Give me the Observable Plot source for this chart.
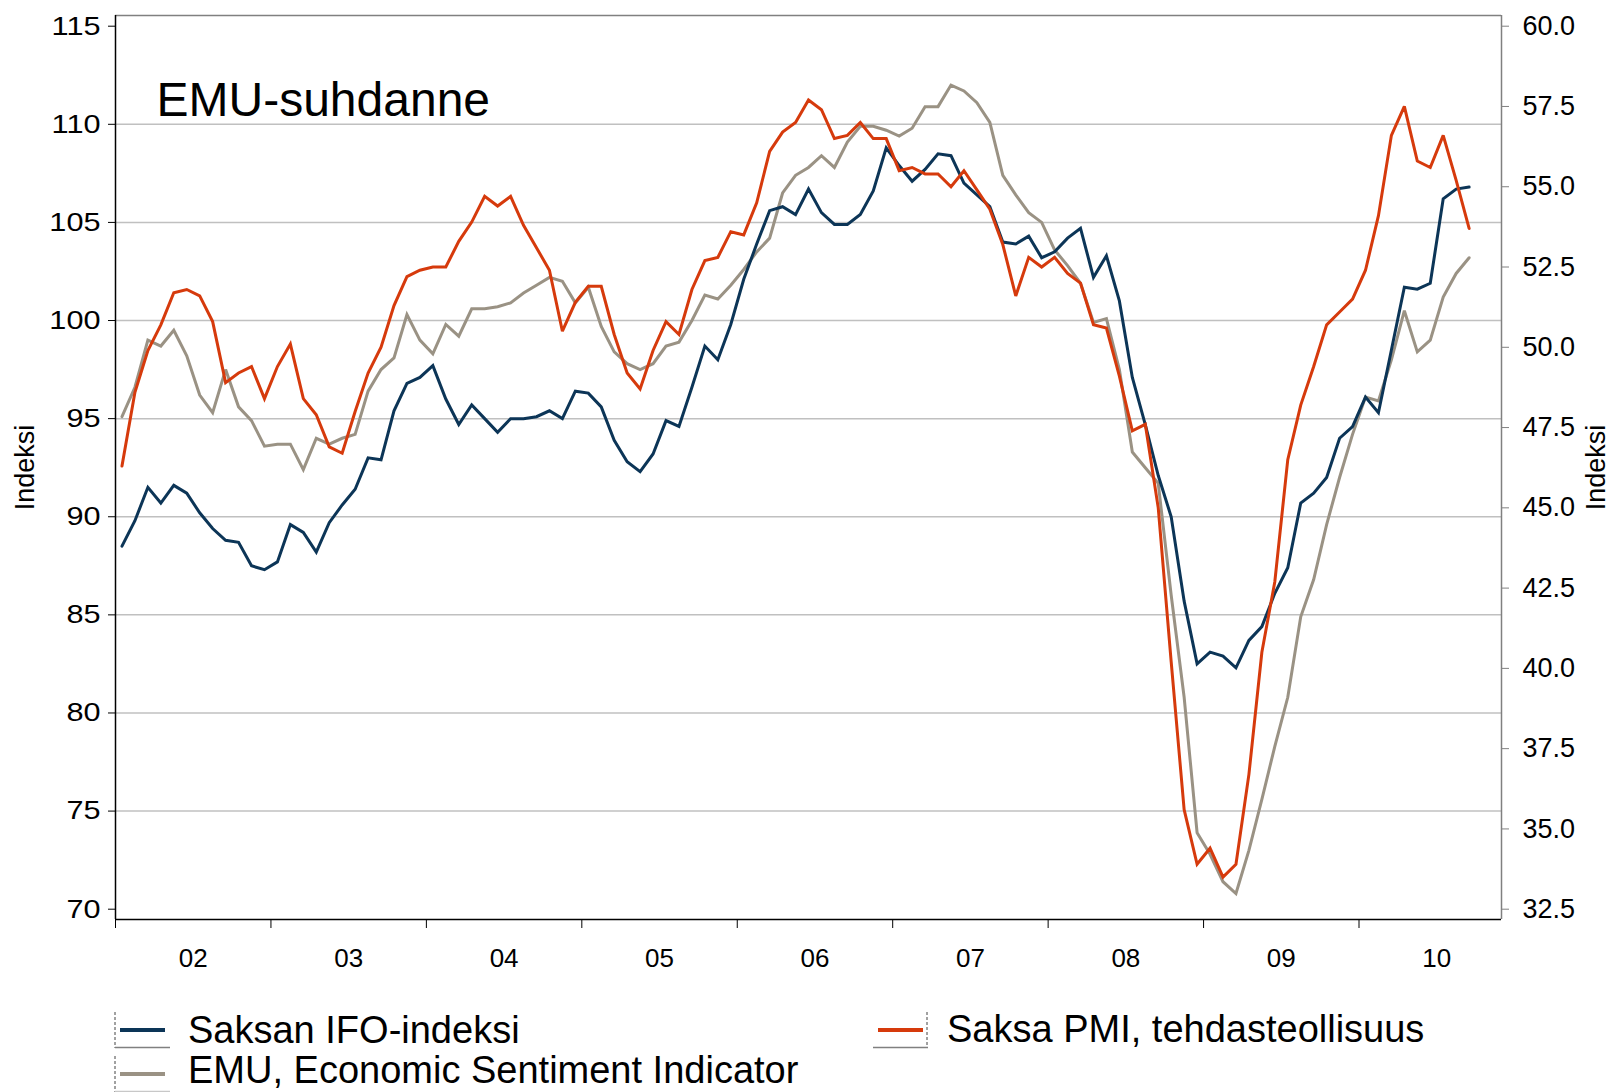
<!DOCTYPE html>
<html>
<head>
<meta charset="utf-8">
<script src="https://cdn.jsdelivr.net/npm/d3@7"></script>
<script src="https://cdn.jsdelivr.net/npm/@observablehq/plot@0.6"></script>
<style>
  html, body { margin: 0; padding: 0; background: #ffffff; }
  body { width: 1612px; height: 1092px; overflow: hidden; position: relative; font-family: "Liberation Sans", Arial, sans-serif; }
  #chart { position: absolute; left: 0; top: 0; }
  #legend { position: absolute; left: 0; top: 995px; }
</style>
</head>
<body>
<div id="chart"></div>
<svg id="legend" width="1612" height="97"></svg>
<script>
// ---- data (monthly, Jan 2002 .. Sep 2010) ----
const chartTitle = "EMU-suhdanne";
const axisTitle = "Indeksi";
const yearLabels = ["02", "03", "04", "05", "06", "07", "08", "09", "10"];
const leftTicks = [70, 75, 80, 85, 90, 95, 100, 105, 110, 115];
const rightTicks = [32.5, 35, 37.5, 40, 42.5, 45, 47.5, 50, 52.5, 55, 57.5, 60];

// Saksan IFO-indeksi (left axis)
const ifo = [
  88.5, 89.8, 91.5, 90.7, 91.6, 91.2, 90.2, 89.4, 88.8, 88.7,
  87.5, 87.3, 87.7, 89.6, 89.2, 88.2, 89.7, 90.6, 91.4, 93.0,
  92.9, 95.4, 96.8, 97.1, 97.7, 96.0, 94.7, 95.7, 95.0, 94.3,
  95.0, 95.0, 95.1, 95.4, 95.0, 96.4, 96.3, 95.6, 93.9, 92.8,
  92.3, 93.2, 94.9, 94.6, 96.6, 98.7, 98.0, 99.8, 102.1, 103.9,
  105.6, 105.8, 105.4, 106.7, 105.5, 104.9, 104.9, 105.4, 106.6, 108.8,
  107.9, 107.1, 107.7, 108.5, 108.4, 107.0, 106.4, 105.8, 104.0, 103.9,
  104.3, 103.2, 103.5, 104.2, 104.7, 102.2, 103.3, 101.0, 97.1, 94.7,
  92.1, 90.0, 85.7, 82.5, 83.1, 82.9, 82.3, 83.7, 84.4, 86.1,
  87.4, 90.7, 91.2, 92.0, 94.0, 94.6, 96.1, 95.3, 98.5, 101.7,
  101.6, 101.9, 106.2, 106.7, 106.8
];
// EMU, Economic Sentiment Indicator (left axis)
const esi = [
  95.1, 96.6, 99.0, 98.7, 99.5, 98.2, 96.2, 95.3, 97.5, 95.6,
  94.9, 93.6, 93.7, 93.7, 92.4, 94.0, 93.7, 94.0, 94.2, 96.4,
  97.5, 98.1, 100.3, 99.0, 98.3, 99.8, 99.2, 100.6, 100.6, 100.7,
  100.9, 101.4, 101.8, 102.2, 102.0, 100.9, 101.7, 99.7, 98.4, 97.8,
  97.5, 97.8, 98.7, 98.9, 100.0, 101.3, 101.1, 101.8, 102.6, 103.5,
  104.2, 106.5, 107.4, 107.8, 108.4, 107.8, 109.1, 109.9, 109.9, 109.7,
  109.4, 109.8, 110.9, 110.9, 112.0, 111.7, 111.1, 110.1, 107.4, 106.4,
  105.5, 105.0, 103.6, 102.8, 101.9, 99.9, 100.1, 97.5, 93.3, 92.5,
  91.7, 86.0, 80.8, 73.9, 72.8, 71.4, 70.8, 73.0, 75.6, 78.3,
  80.8, 84.9, 86.8, 89.6, 92.0, 94.2, 96.1, 95.9, 98.0, 100.5,
  98.4, 99.0, 101.2, 102.4, 103.2
];
// Saksa PMI, tehdasteollisuus (right axis)
const pmi = [
  46.3, 48.6, 49.9, 50.7, 51.7, 51.8, 51.6, 50.8, 48.9, 49.2,
  49.4, 48.4, 49.4, 50.1, 48.4, 47.9, 46.9, 46.7, 48.0, 49.2,
  50.0, 51.3, 52.2, 52.4, 52.5, 52.5, 53.3, 53.9, 54.7, 54.4,
  54.7, 53.8, 53.1, 52.4, 50.5, 51.4, 51.9, 51.9, 50.4, 49.2,
  48.7, 49.9, 50.8, 50.4, 51.8, 52.7, 52.8, 53.6, 53.5, 54.5,
  56.1, 56.7, 57.0, 57.7, 57.4, 56.5, 56.6, 57.0, 56.5, 56.5,
  55.5, 55.6, 55.4, 55.4, 55.0, 55.5, 54.9, 54.3, 53.2, 51.6,
  52.8, 52.5, 52.8, 52.3, 52.0, 50.7, 50.6, 49.1, 47.4, 47.6,
  45.0, 40.2, 35.6, 33.9, 34.4, 33.5, 33.9, 36.7, 40.5, 42.7,
  46.5, 48.2, 49.4, 50.7, 51.1, 51.5, 52.4, 54.1, 56.6, 57.5,
  55.8, 55.6, 56.6, 55.2, 53.7
];

const seriesNames = ["Saksan IFO-indeksi", "Saksa PMI, tehdasteollisuus", "EMU, Economic Sentiment Indicator"];
const colors = { ifo: "#0c3557", pmi: "#d63a0c", esi: "#9a9284" };

// ---- scales: category months on x, dual y axes ----
const nMonthsAxis = 107;                 // axis runs Jan 2002 .. Nov 2010
const xDomain = [-0.5, nMonthsAxis - 0.5];
const yDomain = [69.475, 115.545];       // left axis
const toLeft = v => 70 + (v - 32.5) * (115 - 70) / (60 - 32.5);
const fromLeft = v => 32.5 + (v - 70) * (60 - 32.5) / (115 - 70);

const yearBounds = yearLabels.map((d, i) => -0.5 + 12 * i);
const yearCenters = yearLabels.map((d, i) => 5.5 + 12 * i);
const grid = leftTicks.filter(t => t > 70 && t < 115);

const font = '"Liberation Sans", Arial, sans-serif';

const chart = Plot.plot({
  width: 1612,
  height: 990,
  marginLeft: 115,
  marginRight: 111,
  marginTop: 15,
  marginBottom: 71,
  x: { type: "linear", domain: xDomain, axis: null },
  y: { domain: yDomain, axis: null },
  style: { fontFamily: font, background: "#ffffff", color: "#000000" },
  marks: [
    Plot.ruleY(grid, { stroke: "#c0c0c0", strokeWidth: 1.5 }),
    Plot.ruleY([yDomain[1]], { stroke: "#808080", strokeWidth: 1.5 }),
    Plot.ruleX([xDomain[1]], { stroke: "#808080", strokeWidth: 1.5 }),
    Plot.axisY({ anchor: "left", ticks: leftTicks, tickSize: 7, tickPadding: 8, fontSize: 26, label: null,
                 tickFormat: d => String(d) }),
    Plot.axisY({ anchor: "right", ticks: rightTicks.map(toLeft), tickSize: 7, tickPadding: 14, fontSize: 27, label: null,
                 stroke: "#808080", tickFormat: d => fromLeft(d).toFixed(1) }),
    Plot.axisX({ anchor: "bottom", ticks: yearBounds, tickSize: 9, label: null, tickFormat: () => "" }),
    Plot.text(yearLabels, { x: (d, i) => yearCenters[i], frameAnchor: "bottom", dy: 39, fontSize: 26,
                            lineAnchor: "middle", ariaLabel: "year-labels" }),
    Plot.text([axisTitle], { frameAnchor: "left", rotate: -90, dx: -90, fontSize: 27, textAnchor: "middle" }),
    Plot.text([axisTitle], { frameAnchor: "right", rotate: -90, dx: 95, fontSize: 27, textAnchor: "middle" }),
    Plot.text([chartTitle], { frameAnchor: "top-left", dx: 41, dy: 85, fontSize: 48, textAnchor: "start",
                              lineAnchor: "middle", ariaLabel: "chart-title" }),
    Plot.lineY(esi, { x: (d, i) => i, y: d => d, stroke: colors.esi, strokeWidth: 3, strokeLinejoin: "miter", strokeMiterlimit: 3 }),
    Plot.lineY(ifo, { x: (d, i) => i, y: d => d, stroke: colors.ifo, strokeWidth: 3, strokeLinejoin: "miter", strokeMiterlimit: 3 }),
    Plot.lineY(pmi, { x: (d, i) => i, y: d => toLeft(d), stroke: colors.pmi, strokeWidth: 3, strokeLinejoin: "miter", strokeMiterlimit: 3 }),
    Plot.ruleX([xDomain[0]], { stroke: "#000000", strokeWidth: 1.5 }),
    Plot.ruleY([yDomain[0]], { stroke: "#000000", strokeWidth: 1.5 })
  ]
});
document.getElementById("chart").appendChild(chart);

// the reference's lettering is slightly wider than Arial: stretch some labels horizontally
function widenTexts(nodes, factor) {
  nodes.forEach(t => {
    const len = t.getComputedTextLength();
    if (len > 0) {
      t.setAttribute("textLength", (len * factor).toFixed(1));
      t.setAttribute("lengthAdjust", "spacingAndGlyphs");
    }
  });
}
const yTickGroups = chart.querySelectorAll('g[aria-label="y-axis tick label"]');
if (yTickGroups.length > 0) widenTexts(yTickGroups[0].querySelectorAll("text"), 1.18);
widenTexts(chart.querySelectorAll('g[aria-label="year-labels"] text'), 1.1);
widenTexts(chart.querySelectorAll('g[aria-label="chart-title"] text'), 1.03);

// ---- legend (below the SVG) ----
const legendItems = [
  { name: seriesNames[0], color: colors.ifo, x: 115, y: 35, textY: 13, swatchLeft: true, under: "#808080" },
  { name: seriesNames[1], color: colors.pmi, x: 873, y: 35, textY: 12, swatchLeft: false, under: "#808080" },
  { name: seriesNames[2], color: colors.esi, x: 115, y: 79, textY: 9, swatchLeft: true, under: "#c8c8c8" }
];
const leg = d3.select("#legend");
legendItems.forEach(it => {
  const g = leg.append("g").attr("transform", `translate(${it.x},${it.y})`);
  const vx = it.swatchLeft ? 0 : 54;
  g.append("line").attr("x1", vx).attr("x2", vx).attr("y1", -18).attr("y2", 18)
    .attr("stroke", "#444").attr("stroke-width", 1).attr("stroke-dasharray", "3,2");
  g.append("line").attr("x1", 0).attr("x2", 55).attr("y1", 17.5).attr("y2", 17.5)
    .attr("stroke", it.under).attr("stroke-width", 1.5);
  g.append("line").attr("x1", 5).attr("x2", 50).attr("y1", 0).attr("y2", 0)
    .attr("stroke", it.color).attr("stroke-width", 4);
  g.append("text").attr("x", it.swatchLeft ? 73 : 74).attr("y", it.textY)
    .attr("font-family", font).attr("font-size", 38).attr("fill", "#000")
    .text(it.name);
});
</script>
</body>
</html>
